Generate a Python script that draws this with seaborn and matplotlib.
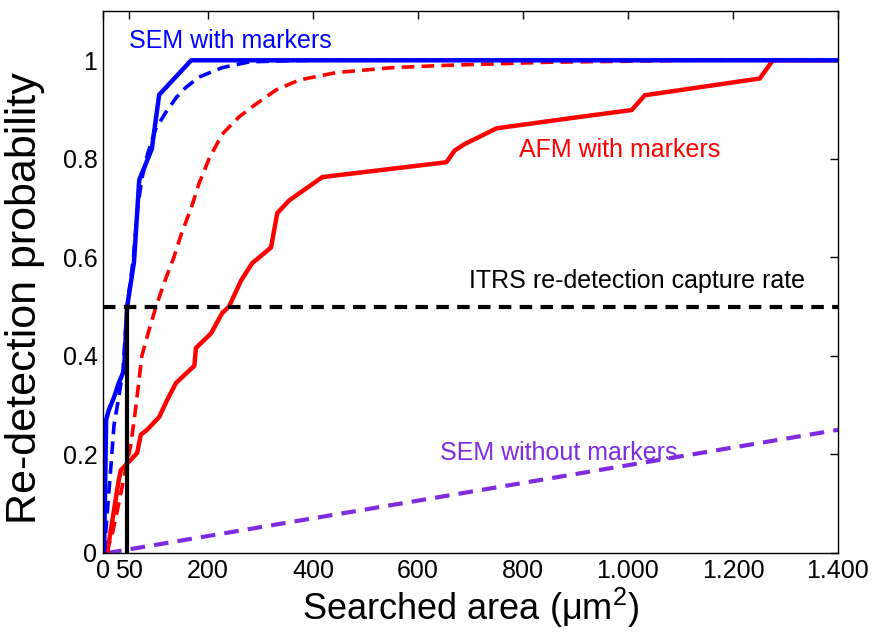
import matplotlib
matplotlib.use("Agg")
import matplotlib.pyplot as plt
import seaborn as sns
import numpy as np
import pandas as pd

# ---- data ----
sem_x = [2, 6, 11, 21, 30, 40, 46, 59, 69, 93, 107, 168, 1400]
sem_y = [0.0, 0.27, 0.29, 0.316, 0.345, 0.37, 0.50, 0.59, 0.757, 0.82, 0.93, 1.0, 1.0]

sem_fit_x = [2, 8, 15, 21, 30, 38, 46, 58, 66, 74, 85, 100, 120, 140, 158, 183, 227, 280, 400, 1400]
sem_fit_y = [0.0, 0.08, 0.175, 0.26, 0.316, 0.37, 0.50, 0.6, 0.7, 0.76, 0.81, 0.86, 0.895,
             0.925, 0.945, 0.966, 0.985, 0.997, 1.0, 1.0]

afm_x = [8, 30, 34, 65, 72, 84, 107, 122, 139, 174, 177, 206, 227, 240, 263, 284, 320,
         332, 355, 418, 654, 670, 689, 750, 908, 1007, 1032, 1251, 1276, 1400]
afm_y = [0.0, 0.148, 0.168, 0.203, 0.24, 0.25, 0.276, 0.31, 0.345, 0.38, 0.416, 0.446,
         0.487, 0.5, 0.553, 0.588, 0.62, 0.69, 0.716, 0.763, 0.793, 0.817, 0.83, 0.862,
         0.885, 0.899, 0.929, 0.963, 1.0, 1.0]

afm_fit_x = [6, 18, 30, 45, 53, 63, 74, 87, 101, 117, 135, 150, 168, 183, 202, 227, 259,
             290, 330, 374, 444, 550, 660, 850, 1137, 1400]
afm_fit_y = [0.0, 0.04, 0.1, 0.18, 0.22, 0.3, 0.4, 0.45, 0.5, 0.55, 0.6, 0.65, 0.7, 0.75,
             0.8, 0.85, 0.885, 0.91, 0.94, 0.96, 0.975, 0.985, 0.99, 0.996, 1.0, 1.0]

nomark_x = [8, 1400]
nomark_y = [0.0, 0.25]

itrs_x = [0, 1400]
itrs_y = [0.5, 0.5]

cut_x = [46, 46]
cut_y = [0.0, 0.5]

xticks = [0, 50, 200, 400, 600, 800, 1000, 1200, 1400]
xtick_labels = ["0", "50", "200", "400", "600", "800", "1.000", "1.200", "1.400"]
yticks = [0, 0.2, 0.4, 0.6, 0.8, 1.0]
ytick_labels = ["0", "0.2", "0.4", "0.6", "0.8", "1"]

# ---- style ----
sns.set_style("white")
plt.rcParams["font.family"] = ["Liberation Sans", "DejaVu Sans"]
plt.rcParams["mathtext.fontset"] = "custom"
plt.rcParams["mathtext.rm"] = "Liberation Sans"
plt.rcParams["mathtext.it"] = "Liberation Sans:italic"
plt.rcParams["text.color"] = "black"
plt.rcParams["axes.labelcolor"] = "black"

fig = plt.figure(figsize=(8.78, 6.43), dpi=100)
ax = fig.add_axes([103 / 878, 1 - 553 / 643, (838 - 103) / 878, (553 - 11) / 643])

BLUE = "#0000FF"
RED = "#FF0000"
PURPLE = "#7F2BE0"

sns.lineplot(x=nomark_x, y=nomark_y, ax=ax, color=PURPLE, lw=3.0,
             linestyle=(0, (3.5, 2.2)), estimator=None, sort=False)
sns.lineplot(x=afm_fit_x, y=afm_fit_y, ax=ax, color=RED, lw=2.6,
             linestyle=(0, (3.5, 2.0)), estimator=None, sort=False)
sns.lineplot(x=afm_x, y=afm_y, ax=ax, color=RED, lw=3.2,
             estimator=None, sort=False)
sns.lineplot(x=sem_x, y=sem_y, ax=ax, color=BLUE, lw=3.2,
             estimator=None, sort=False)
sns.lineplot(x=sem_fit_x, y=sem_fit_y, ax=ax, color=BLUE, lw=2.6,
             linestyle=(0, (3.5, 2.0)), estimator=None, sort=False)
sns.lineplot(x=itrs_x, y=itrs_y, ax=ax, color="black", lw=3.0,
             linestyle=(0, (3.0, 2.0)), estimator=None, sort=False)
sns.lineplot(x=cut_x, y=cut_y, ax=ax, color="black", lw=3.0,
             estimator=None, sort=False)

ax.set_xlim(0, 1400)
ax.set_ylim(0, 1.1)
ax.set_xticks(xticks)
ax.set_xticklabels(xtick_labels, fontsize=18)
ax.set_yticks(yticks)
ax.set_yticklabels(ytick_labels, fontsize=18)
ax.tick_params(direction="in", top=True, right=True, length=6, width=1, pad=4,
               colors="black")
for s in ax.spines.values():
    s.set_visible(True)
    s.set_color("black")
    s.set_linewidth(1.0)

ax.set_xlabel("Searched area (μm$^2$)", fontsize=26, labelpad=2)
ax.set_ylabel("Re-detection probability", fontsize=31)
ax.yaxis.set_label_coords(-0.079, 0.47)

ax.text(50, 1.04, "SEM with markers", color=BLUE, fontsize=18, va="center", ha="left")
ax.text(793, 0.817, "AFM with markers", color=RED, fontsize=18, va="center", ha="left")
ax.text(698, 0.553, "ITRS re-detection capture rate", color="black", fontsize=18,
        va="center", ha="left")
ax.text(641, 0.203, "SEM without markers", color=PURPLE, fontsize=18,
        va="center", ha="left")

fig.savefig("out.png", dpi=100)
